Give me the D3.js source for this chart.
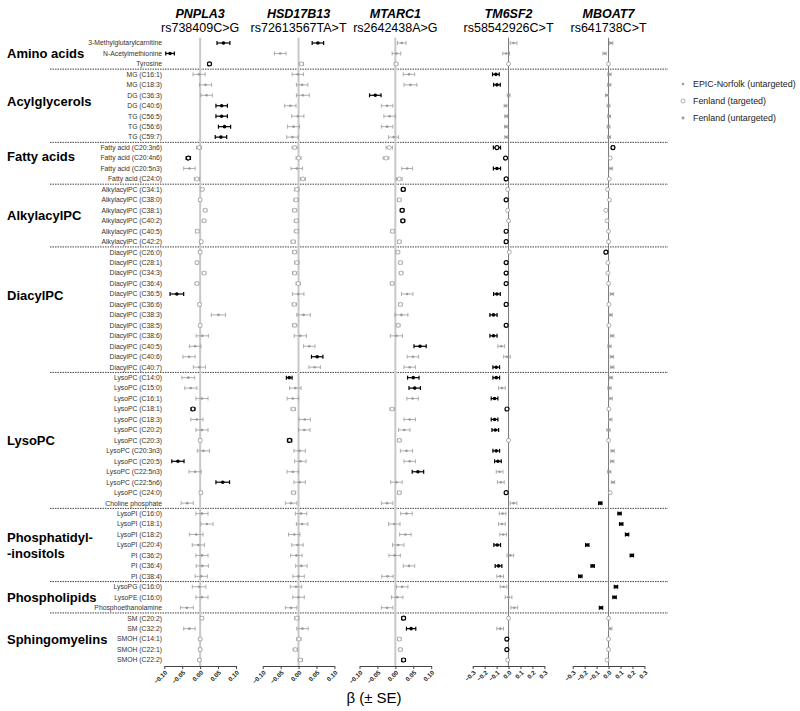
<!DOCTYPE html>
<html>
<head>
<meta charset="utf-8">
<script src="https://cdn.jsdelivr.net/npm/d3@7"></script>
<style>
body { margin: 0; background: #fff; }
svg { font-family: "Liberation Sans", Arial, Helvetica, sans-serif; }
</style>
</head>
<body>
<svg class="chart" width="800" height="711"></svg>
<script>

// Metabolites, top to bottom, and the groups they belong to:

var metabolites = ["3-Methylglutarylcarnitine", "N-Acetylmethionine", "Tyrosine",
	"MG (C16:1)", "MG (C18:3)", "DG (C36:3)", "DG (C40:6)", "TG (C56:5)", "TG (C56:6)", "TG (C59:7)",
	"Fatty acid (C20:3n6)", "Fatty acid (C20:4n6)", "Fatty acid (C20:5n3)", "Fatty acid (C24:0)",
	"AlkylacylPC (C34:1)", "AlkylacylPC (C38:0)", "AlkylacylPC (C38:1)", "AlkylacylPC (C40:2)", "AlkylacylPC (C40:5)", "AlkylacylPC (C42:2)",
	"DiacylPC (C26:0)", "DiacylPC (C28:1)", "DiacylPC (C34:3)", "DiacylPC (C36:4)", "DiacylPC (C36:5)", "DiacylPC (C36:6)",
	"DiacylPC (C38:3)", "DiacylPC (C38:5)", "DiacylPC (C38:6)", "DiacylPC (C40:5)", "DiacylPC (C40:6)", "DiacylPC (C40:7)",
	"LysoPC (C14:0)", "LysoPC (C15:0)", "LysoPC (C16:1)", "LysoPC (C18:1)", "LysoPC (C18:3)", "LysoPC (C20:2)", "LysoPC (C20:3)",
	"LysoPC (C20:3n3)", "LysoPC (C20:5)", "LysoPC (C22:5n3)", "LysoPC (C22:5n6)", "LysoPC (C24:0)", "Choline phosphate",
	"LysoPI (C16:0)", "LysoPI (C18:1)", "LysoPI (C18:2)", "LysoPI (C20:4)", "PI (C36:2)", "PI (C36:4)", "PI (C38:4)",
	"LysoPG (C16:0)", "LysoPE (C16:0)", "Phosphoethanolamine",
	"SM (C20:2)", "SM (C32:2)", "SMOH (C14:1)", "SMOH (C22:1)", "SMOH (C22:2)"];

var groupNames = ["Amino acids", "Acylglycerols", "Fatty acids", "AlkylacylPC", "DiacylPC", "LysoPC",
	"Phosphatidyl-|-inositols", "Phospholipids", "Sphingomyelins"];
var groupSizes = [3, 7, 4, 6, 12, 13, 7, 3, 5];

// Rows measured in Fenland (targeted); all others are untargeted:

var targetedRows = [2, 10, 11, 13, 14, 15, 16, 17, 18, 19, 20, 21, 22, 23, 25, 27, 35, 38, 43, 55, 57, 58, 59];

// Panels:

var genes = ["PNPLA3", "HSD17B13", "MTARC1", "TM6SF2", "MBOAT7"];
var variants = ["rs738409C>G", "rs72613567TA>T", "rs2642438A>G", "rs58542926C>T", "rs641738C>T"];
var axisLimits = [0.10, 0.10, 0.10, 0.3, 0.3];
var tickSmall = [-0.10, -0.05, 0.00, 0.05, 0.10];
var tickLarge = [-0.3, -0.2, -0.1, 0.0, 0.1, 0.2, 0.3];

var legendLabels = ["EPIC-Norfolk (untargeted)", "Fenland (targeted)", "Fenland (untargeted)"];

// Betas, standard errors and significant rows for each variant:

var betaPNPLA3 = [0.065, -0.084, 0.026, -0.003, 0.015, 0.018, 0.060, 0.060, 0.068, 0.058,
	-0.003, -0.033, -0.030, -0.009, 0.006, 0.000, 0.014, 0.011, -0.008, 0.003,
	0.000, -0.009, 0.011, -0.009, -0.065, -0.002, 0.051, 0.000, 0.006, -0.014,
	-0.031, -0.002, -0.033, -0.026, 0.005, -0.020, -0.009, 0.005, 0.000, 0.009,
	-0.062, -0.014, 0.063, 0.002, -0.036, 0.005, 0.019, -0.011, -0.005, 0.005,
	0.006, 0.003, -0.003, 0.005, -0.037, 0.005, -0.030, 0.000, 0.000, -0.002];
var sePNPLA3 = [0.018, 0.012, 0.004, 0.017, 0.017, 0.016, 0.016, 0.016, 0.017, 0.016,
	0.007, 0.006, 0.016, 0.007, 0.004, 0.004, 0.005, 0.005, 0.005, 0.004,
	0.004, 0.004, 0.005, 0.005, 0.019, 0.004, 0.020, 0.004, 0.017, 0.016,
	0.017, 0.017, 0.018, 0.017, 0.017, 0.005, 0.017, 0.017, 0.004, 0.017,
	0.017, 0.017, 0.019, 0.004, 0.017, 0.017, 0.017, 0.019, 0.017, 0.017,
	0.017, 0.017, 0.019, 0.017, 0.018, 0.004, 0.016, 0.004, 0.004, 0.004];
var sigPNPLA3 = [0, 1, 2, 6, 7, 8, 9, 11, 24, 35, 40, 42];

var betaHSD17B13 = [0.054, -0.051, 0.008, -0.002, 0.010, 0.012, -0.023, -0.002, -0.014, -0.017,
	-0.011, 0.000, -0.005, 0.012, -0.005, -0.007, -0.011, -0.006, -0.006, -0.015,
	-0.011, -0.005, -0.011, -0.001, -0.001, -0.012, 0.014, -0.011, 0.005, 0.030,
	0.052, 0.045, -0.026, -0.009, -0.016, -0.015, 0.017, 0.016, -0.025, 0.003,
	0.005, -0.016, 0.003, -0.014, -0.021, 0.007, 0.010, -0.012, -0.003, -0.006,
	0.008, 0.000, -0.007, 0.000, -0.021, -0.005, 0.011, 0.001, -0.009, 0.005];
var seHSD17B13 = [0.016, 0.016, 0.006, 0.016, 0.016, 0.018, 0.016, 0.017, 0.017, 0.016,
	0.007, 0.007, 0.016, 0.007, 0.006, 0.006, 0.006, 0.006, 0.006, 0.006,
	0.006, 0.006, 0.006, 0.006, 0.016, 0.006, 0.019, 0.006, 0.017, 0.016,
	0.016, 0.016, 0.008, 0.016, 0.016, 0.006, 0.016, 0.016, 0.006, 0.016,
	0.016, 0.016, 0.016, 0.006, 0.016, 0.016, 0.016, 0.016, 0.016, 0.016,
	0.016, 0.016, 0.016, 0.016, 0.016, 0.006, 0.016, 0.006, 0.006, 0.006];
var sigHSD17B13 = [0, 30, 32, 38];

var betaMTARC1 = [0.018, 0.003, 0.002, 0.038, 0.042, -0.056, -0.023, -0.016, -0.023, -0.005,
	-0.017, -0.026, 0.033, 0.011, 0.022, 0.011, 0.019, 0.021, -0.008, 0.011,
	0.007, 0.014, 0.016, -0.009, 0.033, 0.014, 0.017, 0.008, 0.003, 0.069,
	0.049, 0.040, 0.050, 0.054, 0.048, -0.009, 0.040, 0.025, 0.011, 0.031,
	0.040, 0.063, 0.003, 0.011, -0.023, 0.031, -0.003, 0.028, 0.008, -0.002,
	0.038, -0.022, 0.019, 0.005, -0.023, 0.023, 0.044, 0.011, 0.014, 0.023];
var seMTARC1 = [0.012, 0.012, 0.005, 0.016, 0.018, 0.016, 0.016, 0.016, 0.016, 0.014,
	0.009, 0.008, 0.015, 0.008, 0.005, 0.005, 0.005, 0.005, 0.005, 0.005,
	0.005, 0.005, 0.005, 0.005, 0.016, 0.005, 0.018, 0.005, 0.017, 0.017,
	0.016, 0.016, 0.016, 0.016, 0.016, 0.006, 0.016, 0.016, 0.005, 0.017,
	0.016, 0.016, 0.016, 0.005, 0.016, 0.016, 0.016, 0.016, 0.016, 0.016,
	0.016, 0.016, 0.016, 0.016, 0.016, 0.005, 0.013, 0.005, 0.005, 0.005];
var sigMTARC1 = [5, 14, 16, 17, 29, 32, 33, 41, 55, 56, 59];

var betaTM6SF2 = [0.042, -0.020, 0.000, -0.106, -0.097, 0.001, -0.025, -0.020, -0.022, -0.020,
	-0.097, -0.025, -0.097, -0.020, -0.008, -0.020, -0.008, 0.000, -0.020, -0.020,
	0.006, -0.020, -0.020, -0.020, -0.097, -0.020, -0.126, -0.020, -0.126, -0.061,
	-0.013, -0.103, -0.103, -0.055, -0.117, -0.013, -0.117, -0.111, 0.000, -0.103,
	-0.089, -0.075, -0.064, -0.020, 0.042, -0.050, -0.055, -0.045, -0.095, 0.015,
	-0.084, -0.070, -0.042, 0.000, 0.048, 0.000, -0.070, -0.014, -0.014, -0.008];
var seTM6SF2 = [0.028, 0.028, 0.006, 0.028, 0.028, 0.012, 0.012, 0.012, 0.012, 0.012,
	0.030, 0.008, 0.030, 0.006, 0.006, 0.006, 0.006, 0.006, 0.006, 0.006,
	0.006, 0.006, 0.006, 0.006, 0.028, 0.006, 0.030, 0.006, 0.030, 0.028,
	0.028, 0.028, 0.028, 0.028, 0.028, 0.006, 0.028, 0.028, 0.006, 0.028,
	0.028, 0.028, 0.028, 0.006, 0.028, 0.028, 0.028, 0.028, 0.028, 0.028,
	0.028, 0.028, 0.028, 0.028, 0.028, 0.006, 0.028, 0.006, 0.006, 0.006];
var sigTM6SF2 = [3, 4, 10, 11, 12, 13, 15, 18, 19, 21, 22, 23, 24, 25, 26, 27, 28, 31, 32, 34,
	35, 36, 37, 39, 40, 43, 48, 50, 57, 58];

var betaMBOAT7 = [0.022, -0.033, 0.000, 0.008, 0.006, -0.013, 0.000, 0.005, 0.000, 0.005,
	0.037, 0.014, 0.020, 0.006, -0.008, 0.008, -0.022, -0.013, 0.000, 0.000,
	-0.022, -0.005, -0.005, 0.000, 0.028, 0.003, 0.017, 0.003, 0.031, 0.008,
	0.028, 0.031, 0.020, 0.008, 0.017, 0.003, 0.014, 0.000, 0.000, 0.034,
	0.031, 0.006, 0.037, 0.014, -0.069, 0.092, 0.106, 0.155, -0.178, 0.195,
	-0.133, -0.236, 0.062, 0.050, -0.063, 0.000, 0.014, 0.000, 0.000, -0.013];
var seMBOAT7 = [0.014, 0.014, 0.005, 0.014, 0.014, 0.012, 0.012, 0.012, 0.012, 0.012,
	0.012, 0.005, 0.014, 0.005, 0.005, 0.005, 0.005, 0.005, 0.005, 0.005,
	0.008, 0.005, 0.005, 0.005, 0.014, 0.005, 0.014, 0.005, 0.014, 0.014,
	0.014, 0.014, 0.014, 0.014, 0.014, 0.005, 0.014, 0.014, 0.005, 0.014,
	0.014, 0.014, 0.014, 0.005, 0.014, 0.014, 0.014, 0.014, 0.014, 0.014,
	0.014, 0.014, 0.014, 0.014, 0.014, 0.005, 0.014, 0.005, 0.005, 0.005];
var sigMBOAT7 = [10, 20, 44, 45, 46, 47, 48, 49, 50, 51, 52, 53, 54];

var betas = [betaPNPLA3, betaHSD17B13, betaMTARC1, betaTM6SF2, betaMBOAT7],
	ses = [sePNPLA3, seHSD17B13, seMTARC1, seTM6SF2, seMBOAT7],
	sigs = [sigPNPLA3, sigHSD17B13, sigMTARC1, sigTM6SF2, sigMBOAT7];

// Basic dimensions:

var rowTop = 43,
	rowBottom = 660,
	axisY = 666,
	labelRight = 162,
	panelLeft = [164.3, 262.7, 359.5, 472.7, 572.7],
	panelWidth = 71.7,
	sepLeft = 50,
	sepRight = 668,
	capHalf = 2;

var chart = d3.select(".chart");

var y = d3.scalePoint()
	.domain(d3.range(metabolites.length))
	.range([rowTop, rowBottom]);
var step = y.step();

// Row labels:

chart.append("g").selectAll("text")
	.data(metabolites)
.enter().append("text")
	.attr("x", labelRight)
	.attr("y", function(d, i) { return y(i); })
	.attr("dy", "0.35em")
	.style("text-anchor", "end")
	.style("font-size", "6.8px")
	.style("fill", "#333")
	.text(function(d) { return d; });

// Group labels and dashed separators:

var labelNudge = {"Acylglycerols": -4, "Fatty acids": -7, "DiacylPC": -14};
var start = 0;
groupNames.forEach(function(name, g) {
	var end = start + groupSizes[g] - 1;
	var mid = (y(start) + y(end)) / 2 + (labelNudge[name] || 0);
	var lines = name.split("|");
	lines.forEach(function(line, k) {
		chart.append("text")
			.attr("x", 7)
			.attr("y", mid + (k - (lines.length - 1) / 2) * 16)
			.attr("dy", "0.35em")
			.style("font-size", "13px")
			.style("font-weight", "bold")
			.text(line);
	});
	if (g < groupNames.length - 1) {
		chart.append("line")
			.attr("x1", sepLeft)
			.attr("x2", sepRight)
			.attr("y1", y(end) + step / 2)
			.attr("y2", y(end) + step / 2)
			.style("stroke", "#444")
			.style("stroke-width", 1)
			.style("stroke-dasharray", "1.5,1");
	}
	start = end + 1;
});

// One panel for each variant:

genes.forEach(function(gene, p) {

	var x = d3.scaleLinear()
		.domain([-axisLimits[p], axisLimits[p]])
		.range([panelLeft[p], panelLeft[p] + panelWidth]);

	var panel = chart.append("g");

	panel.append("line")
		.attr("x1", x(0))
		.attr("x2", x(0))
		.attr("y1", rowTop - step / 2)
		.attr("y2", axisY)
		.style("stroke", p < 3 ? "#c8c8c8" : "#777")
		.style("stroke-width", p < 3 ? 2 : 1);

	// Headers
	panel.append("text")
		.attr("x", x(0))
		.attr("y", 18)
		.style("text-anchor", "middle")
		.style("font-size", "12.5px")
		.style("font-weight", "bold")
		.style("font-style", "italic")
		.text(gene);
	panel.append("text")
		.attr("x", x(0))
		.attr("y", 32)
		.style("text-anchor", "middle")
		.style("font-size", "12.5px")
		.text(variants[p]);

	// Axis
	var axis = d3.axisBottom(x)
		.tickValues(axisLimits[p] < 0.2 ? tickSmall : tickLarge)
		.tickFormat(d3.format(axisLimits[p] < 0.2 ? ".2f" : ".1f"))
		.tickSize(3)
		.tickSizeOuter(0);
	var ax = panel.append("g")
		.attr("transform", "translate(0," + axisY + ")")
		.call(axis);
	ax.select(".domain").style("stroke", "#444");
	ax.selectAll(".tick line").style("stroke", "#444");
	ax.selectAll("text")
		.attr("x", 0)
		.attr("y", 0)
		.attr("dy", 0)
		.attr("transform", "translate(3,7) rotate(-45)")
		.style("text-anchor", "end")
		.style("font-family", "Liberation Sans, Arial, sans-serif")
		.style("font-size", "6.3px")
		.style("font-weight", "bold")
		.style("fill", "#222");

	// Estimates with error bars
	var rows = panel.selectAll(".row")
		.data(betas[p].map(function(b, i) {
			return {i: i, b: b, se: ses[p][i], sig: sigs[p].indexOf(i) > -1, targeted: targetedRows.indexOf(i) > -1};
		}))
	.enter().append("g")
		.attr("class", "row")
		.attr("transform", function(d) { return "translate(0," + y(d.i) + ")"; });

	function col(d) { return d.sig ? "#000" : "#9a9a9a"; }
	function sw(d) { return d.sig ? 1.2 : 0.8; }

	rows.append("line")
		.attr("x1", function(d) { return x(d.b - d.se); })
		.attr("x2", function(d) { return x(d.b + d.se); })
		.style("stroke", col)
		.style("stroke-width", sw);
	[-1, 1].forEach(function(s) {
		rows.append("line")
			.attr("x1", function(d) { return x(d.b + s * d.se); })
			.attr("x2", function(d) { return x(d.b + s * d.se); })
			.attr("y1", -capHalf)
			.attr("y2", capHalf)
			.style("stroke", col)
			.style("stroke-width", sw);
	});
	rows.append("circle")
		.attr("cx", function(d) { return x(d.b); })
		.attr("r", function(d) { return d.targeted ? 2 : (d.sig ? 1.8 : 1.3); })
		.style("fill", function(d) { return d.targeted ? "#fff" : col(d); })
		.style("stroke", col)
		.style("stroke-width", function(d) { return d.targeted ? sw(d) : 0; });
});

// Axis title:

chart.append("text")
	.attr("x", 374)
	.attr("y", 703)
	.style("text-anchor", "middle")
	.style("font-size", "15px")
	.text("\u03B2 (\u00B1 SE)");

// Legend:

var legend = chart.selectAll(".legend")
	.data(legendLabels)
.enter().append("g")
	.attr("class", "legend")
	.attr("transform", function(d, i) { return "translate(683," + (84 + i * 17) + ")"; });

legend.append("text")
	.attr("x", 10)
	.attr("dy", "0.35em")
	.style("font-size", "8.9px")
	.style("fill", "#222")
	.text(function(d) { return d; });

legend.filter(function(d, i) { return i == 0; }).append("circle")
	.attr("r", 1.3)
	.style("fill", "#9a9a9a");
legend.filter(function(d, i) { return i == 1; }).append("circle")
	.attr("r", 2)
	.style("fill", "#fff")
	.style("stroke", "#9a9a9a")
	.style("stroke-width", 0.8);
legend.filter(function(d, i) { return i == 2; }).append("rect")
	.attr("x", -1.3)
	.attr("y", -1.3)
	.attr("width", 2.6)
	.attr("height", 2.6)
	.style("fill", "#9a9a9a");

</script>
</body>
</html>
